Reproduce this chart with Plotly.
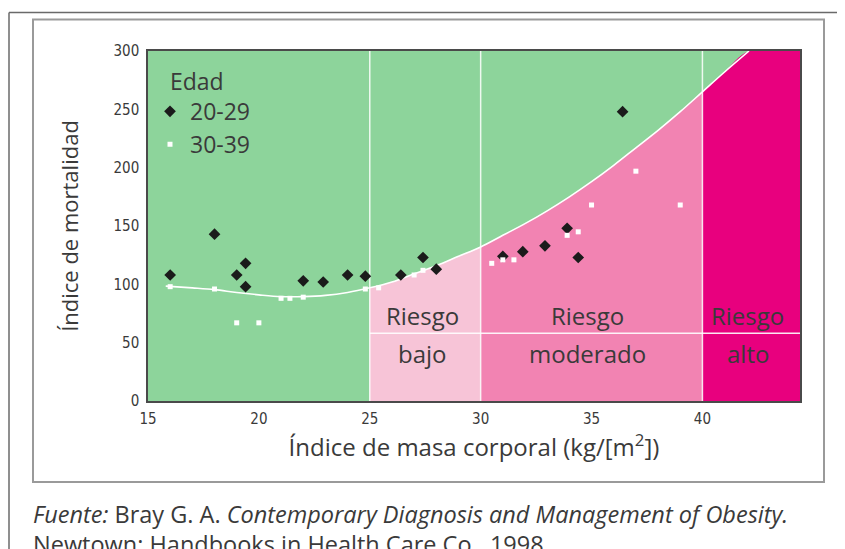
import plotly.graph_objects as go

# ---- data ----
bmi_2029 = [16, 18, 19, 19.4, 19.4, 22, 22.9, 24, 24.8, 26.4, 27.4, 28, 31, 31.9, 32.9, 33.9, 34.4, 36.4]
mort_2029 = [108, 143, 108, 118, 98, 103, 102, 108, 107, 108, 123, 113, 124, 128, 133, 148, 123, 248]

bmi_3039 = [16, 18, 19, 20, 21, 21.4, 22, 24.8, 25.4, 27, 27.4, 30.5, 31, 31.5, 33.9, 34.4, 35, 37, 39]
mort_3039 = [98, 96, 67, 67, 88, 88, 89, 96, 97, 108, 112, 118, 121, 121, 142, 145, 168, 197, 168]

curve_x = [15.8, 17, 18, 19, 20, 21, 22, 23, 24, 25, 26, 27, 28, 29, 30, 31, 32, 33, 34, 35, 36, 37, 38, 39, 40, 41, 42.1]
curve_y = [98.5, 97, 95.5, 93, 91, 89.5, 89.5, 90.5, 93, 97, 102, 109, 116, 124, 132, 142, 152, 163, 175, 188, 202, 217, 232, 248, 265, 282, 300]

zone_bounds = [25, 30, 40]
zone_labels = ["bajo", "moderado", "alto"]
zone_label_x = [27.4, 34.8, 42.05]
zone_split_y = 58
x_ticks = [15, 20, 25, 30, 35, 40]
y_ticks = [0, 50, 100, 150, 200, 250, 300]
x_range = [15, 44.4]
y_range = [0, 300]

GREEN = "#8dd49b"
PINK_LIGHT = "#f7c4d7"
PINK_MID = "#f283b2"
MAGENTA = "#e8007e"
TXT = "#3a3a3a"
FONT = "Open Sans, Noto Sans, sans-serif"
NARROW = "Liberation Sans Narrow, DejaVu Sans Condensed, Roboto, sans-serif"

fig = go.Figure()


def seg(x0, x1):
    xs = [x for x in curve_x if x0 <= x <= x1]
    ys = [y for x, y in zip(curve_x, curve_y) if x0 <= x <= x1]
    return xs, ys


# under-curve risk zones
for (x0, x1), col in zip([(25, 30), (30, 40)], [PINK_LIGHT, PINK_MID]):
    xs, ys = seg(x0, x1)
    fig.add_trace(go.Scatter(x=xs, y=ys, mode="lines", fill="tozeroy", fillcolor=col,
                             line=dict(color=col, width=0, shape="spline"),
                             hoverinfo="skip", showlegend=False))
xs, ys = seg(40, 50)
fig.add_trace(go.Scatter(x=xs + [x_range[1]], y=ys + [y_range[1]], mode="lines", fill="tozeroy",
                         fillcolor=MAGENTA, line=dict(color=MAGENTA, width=0, shape="spline"),
                         hoverinfo="skip", showlegend=False))

# white zone boundaries
for b in zone_bounds:
    fig.add_trace(go.Scatter(x=[b, b], y=y_range, mode="lines",
                             line=dict(color="rgba(255,255,255,0.85)", width=1.5),
                             hoverinfo="skip", showlegend=False))
fig.add_trace(go.Scatter(x=[zone_bounds[0], x_range[1]], y=[zone_split_y, zone_split_y], mode="lines",
                         line=dict(color="rgba(255,255,255,0.9)", width=1.5),
                         hoverinfo="skip", showlegend=False))

# curve
fig.add_trace(go.Scatter(x=curve_x, y=curve_y, mode="lines",
                         line=dict(color="white", width=1.6, shape="spline"),
                         hoverinfo="skip", showlegend=False))

# data points
fig.add_trace(go.Scatter(x=bmi_2029, y=mort_2029, mode="markers", name="20-29",
                         marker=dict(symbol="diamond", size=9, color="#1b1b1b")))
fig.add_trace(go.Scatter(x=bmi_3039, y=mort_3039, mode="markers", name="30-39",
                         marker=dict(symbol="square", size=5, color="white")))

# zone labels
for lx, lab in zip(zone_label_x, zone_labels):
    fig.add_annotation(x=lx, y=73, text="Riesgo", showarrow=False,
                       font=dict(family=FONT, size=24, color=TXT))
    fig.add_annotation(x=lx, y=41, text=lab, showarrow=False,
                       font=dict(family=FONT, size=24, color=TXT))

# the page body has an 8px margin, so work in reference pixels shifted by 8
OFF = 8
W, H = 845 - OFF, 549 - OFF
L, R, T, B = 148 - OFF, 45, 51 - OFF, 148
pw, ph = W - L - R, H - T - B


def px(x):
    return (x - OFF - L) / pw


def py(y):
    return (H - B - (y - OFF)) / ph


# frames
fig.add_shape(type="rect", xref="paper", yref="paper", x0=px(33), x1=px(824), y0=py(482), y1=py(19.5),
              line=dict(color="#9a9a9a", width=2), layer="below")
fig.add_shape(type="line", xref="paper", yref="paper", x0=px(9), x1=px(9), y0=py(12.5), y1=py(560),
              line=dict(color="#6a6a6a", width=1.5))
fig.add_shape(type="line", xref="paper", yref="paper", x0=px(9), x1=px(860), y0=py(12.5), y1=py(12.5),
              line=dict(color="#6a6a6a", width=1.5))

# source
fig.add_annotation(xref="paper", yref="paper", x=px(31), y=py(514), xanchor="left", yanchor="middle",
                   text="<i>Fuente:</i> Bray G. A. <i>Contemporary Diagnosis and Management of Obesity.</i>",
                   showarrow=False, font=dict(family=FONT, size=23.5, color=TXT))
fig.add_annotation(xref="paper", yref="paper", x=px(31), y=py(544), xanchor="left", yanchor="middle",
                   text="Newtown: Handbooks in Health Care Co., 1998",
                   showarrow=False, font=dict(family=FONT, size=23.5, color=TXT))

fig.update_layout(
    width=W, height=H, margin=dict(l=L, r=R, t=T, b=B, autoexpand=False),
    paper_bgcolor="white", plot_bgcolor=GREEN,
    font=dict(family=FONT, color=TXT),
    legend=dict(title=dict(text="&nbsp;&nbsp;&nbsp;Edad", font=dict(family=FONT, size=23, color=TXT)),
                x=px(150), y=py(60), xanchor="left", yanchor="top",
                bgcolor="rgba(0,0,0,0)", font=dict(family=FONT, size=23, color=TXT),
                itemwidth=30),
    xaxis=dict(range=x_range, tickvals=x_ticks, showgrid=False, zeroline=False,
               showline=True, mirror=True, linecolor="#4a4a4a", linewidth=1.5, ticks="",
               tickfont=dict(family=NARROW, size=15, color=TXT), ticklabelstandoff=3,
               title=dict(text="Índice de masa corporal (kg/[m<sup>2</sup>])",
                          font=dict(family=FONT, size=24, color=TXT), standoff=4)),
    yaxis=dict(range=y_range, tickvals=y_ticks, showgrid=False, zeroline=False,
               showline=True, mirror=True, linecolor="#4a4a4a", linewidth=1.5, ticks="",
               tickfont=dict(family=NARROW, size=15, color=TXT), ticklabelstandoff=4,
               title=dict(text="Índice de mortalidad", font=dict(family=FONT, size=22, color=TXT),
                          standoff=29)),
)

fig.write_html("out.html")
